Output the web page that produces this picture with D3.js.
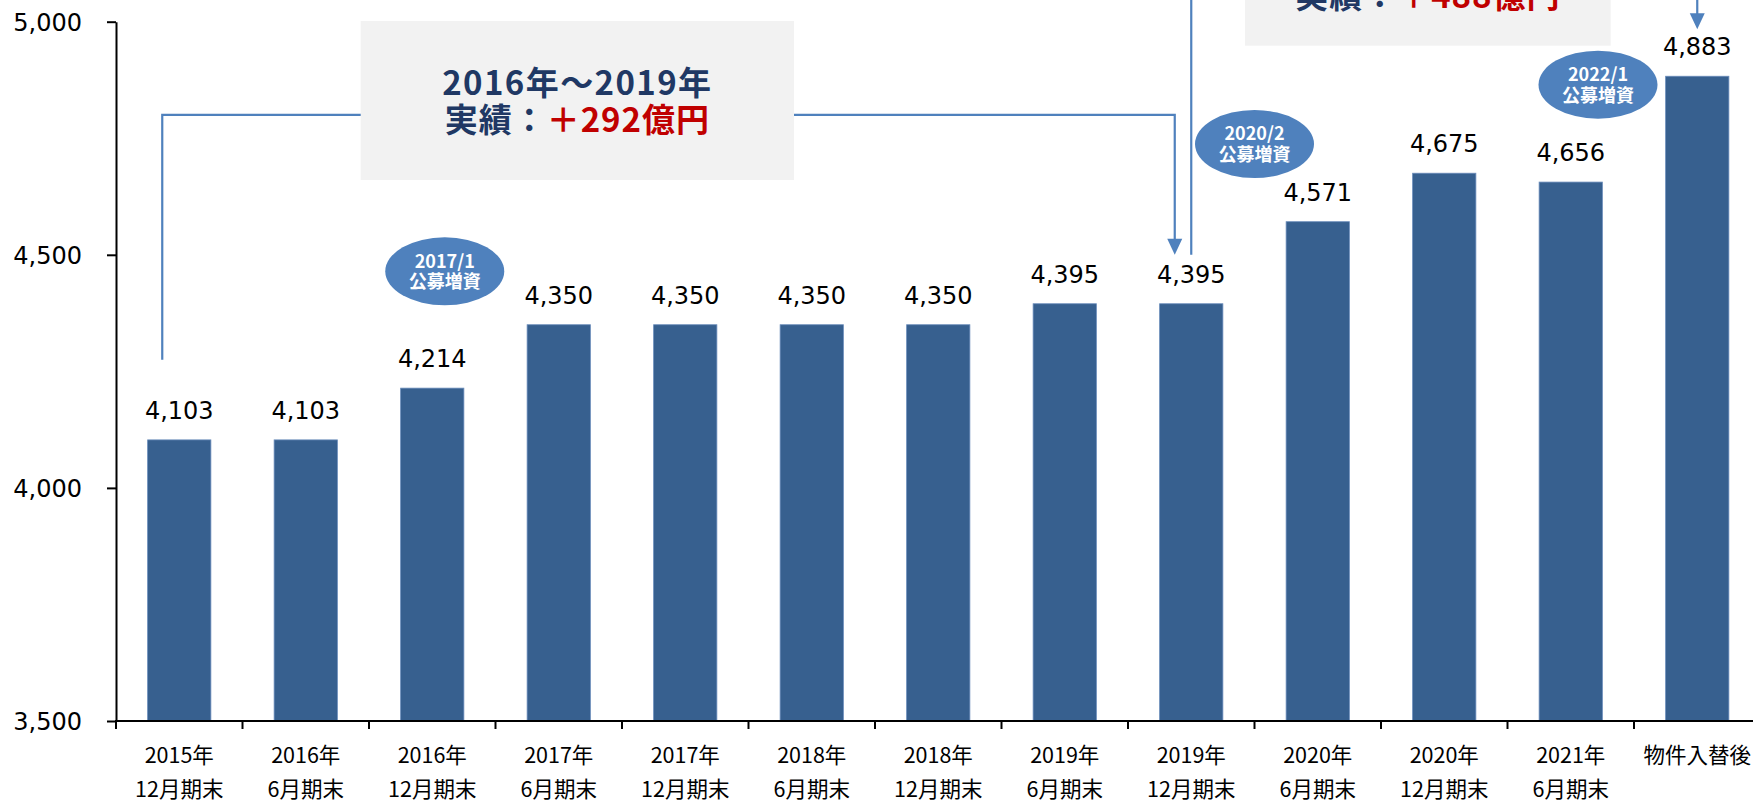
<!DOCTYPE html>
<html>
<head>
<meta charset="utf-8">
<script src="https://cdn.jsdelivr.net/npm/d3@7"></script>
<style>
  html, body { margin: 0; padding: 0; background: #ffffff; }
  svg { display: block; }
</style>
</head>
<body>
<div id="chart"></div>
<script>
// ---- data ----
const catYear   = ["2015年","2016年","2016年","2017年","2017年","2018年","2018年","2019年","2019年","2020年","2020年","2021年","物件入替後"];
const catPeriod = ["12月期末","6月期末","12月期末","6月期末","12月期末","6月期末","12月期末","6月期末","12月期末","6月期末","12月期末","6月期末",""];
const values    = [4103, 4103, 4214, 4350, 4350, 4350, 4350, 4395, 4395, 4571, 4675, 4656, 4883];
const yTicks    = [3500, 4000, 4500, 5000];
const bubbles   = [
  { at: 2,  l1: "2017/1", l2: "公募増資" },
  { at: 8,  l1: "2020/2", l2: "公募増資" },
  { at: 11, l1: "2022/1", l2: "公募増資" }
];
const boxes = [
  { l1: "2016年～2019年", pre: "実績：", amt: "＋292億円" },
  { l1: "2020年～2022年", pre: "実績：", amt: "＋488億円" }
];

// ---- layout ----
const W = 1753, H = 800;
const axisX = 116, step = 126.5;
const svg = d3.select("#chart").append("svg").attr("width", W).attr("height", H);

const x = d3.scaleBand()
  .domain(d3.range(values.length))
  .range([axisX, axisX + step * values.length])
  .paddingInner(0.5).paddingOuter(0.25);
const y = d3.scaleLinear().domain([3500, 5000]).range([721, 21.7]);
const cx = i => x(i) + x.bandwidth() / 2;

// bars
svg.append("g").selectAll("rect").data(values).join("rect")
  .attr("x", (d, i) => x(i))
  .attr("y", d => y(d))
  .attr("width", x.bandwidth())
  .attr("height", d => y(3500) - y(d))
  .attr("fill", "#37608f")
  .attr("stroke", "#6a8cba")
  .attr("stroke-width", 0.8);

// value labels
svg.append("g").selectAll("text").data(values).join("text")
  .attr("x", (d, i) => cx(i))
  .attr("y", d => y(d) - 21)
  .attr("text-anchor", "middle")
  .attr("font-family", "'DejaVu Sans', Verdana, sans-serif")
  .attr("font-size", 24)
  .attr("fill", "#000")
  .text(d => d3.format(",")(d));

// y axis
const yAxis = svg.append("g").attr("transform", `translate(${axisX},0)`)
  .call(d3.axisLeft(y).tickValues(yTicks).tickFormat(d3.format(",")).tickSizeInner(9).tickSizeOuter(0).tickPadding(25));
yAxis.select(".domain").attr("stroke", "#000").attr("stroke-width", 2);
yAxis.selectAll(".tick line").attr("stroke", "#000").attr("stroke-width", 2);
yAxis.selectAll(".tick text")
  .attr("font-family", "'DejaVu Sans', Verdana, sans-serif")
  .attr("font-size", 24).attr("fill", "#000").attr("dy", "0.37em");

// x axis
const boundaries = d3.range(values.length + 1).map(i => axisX + i * x.step());
svg.append("line")
  .attr("x1", axisX - 1).attr("x2", W + 20)
  .attr("y1", y(3500)).attr("y2", y(3500))
  .attr("stroke", "#000").attr("stroke-width", 2.2);
svg.append("g").selectAll("line").data(boundaries).join("line")
  .attr("x1", d => d).attr("x2", d => d)
  .attr("y1", y(3500)).attr("y2", y(3500) + 8)
  .attr("stroke", "#000").attr("stroke-width", 2);

const xl = svg.append("g")
  .attr("font-family", "'Noto Sans CJK JP', 'Noto Sans', sans-serif")
  .attr("font-size", 21.5).attr("fill", "#000").attr("text-anchor", "middle");
xl.selectAll("text.l1").data(catYear).join("text").attr("class", "l1")
  .attr("x", (d, i) => cx(i)).attr("y", y(3500) + 42).text(d => d);
xl.selectAll("text.l2").data(catPeriod).join("text").attr("class", "l2")
  .attr("x", (d, i) => cx(i)).attr("y", y(3500) + 76).text(d => d);

// ---- annotations ----
const blue = "#4f81bd";
const ann = svg.append("g");
function arrowHead(xc, tipY) {
  ann.append("path")
    .attr("d", `M${xc - 7.5},${tipY - 16} L${xc + 7.5},${tipY - 16} L${xc},${tipY} Z`)
    .attr("fill", blue);
}
// bracket 1
const b1L = cx(0) - 17, b1R = cx(8) - 16.5;
ann.append("path")
  .attr("d", `M${b1L},${y(4275)} L${b1L},${y(4800)} L${b1R},${y(4800)} L${b1R},${y(4500) - 14}`)
  .attr("fill", "none").attr("stroke", blue).attr("stroke-width", 2.2);
arrowHead(b1R, y(4500));
// bracket 2
const b2L = cx(8), b2R = cx(12);
ann.append("path")
  .attr("d", `M${b2L},${y(4500)} L${b2L},-60 L${b2R},-60 L${b2R},${y(4984) - 14}`)
  .attr("fill", "none").attr("stroke", blue).attr("stroke-width", 2.2);
arrowHead(b2R, y(4984));

// boxes
const boxGeo = [
  { x0: 360.7, x1: 794, top: 21, bottom: 180, c1: 82.7, c2: 120 },
  { x0: 1245, x1: 1610.7, top: -120, bottom: 45.7, c1: -41, c2: -4 }
];
boxes.forEach((b, k) => {
  const g = boxGeo[k];
  ann.append("rect")
    .attr("x", g.x0).attr("y", g.top)
    .attr("width", g.x1 - g.x0).attr("height", g.bottom - g.top)
    .attr("fill", "#f2f2f2");
  const mid = (g.x0 + g.x1) / 2;
  ann.append("text")
    .attr("x", mid).attr("y", g.c1).attr("dy", "0.36em")
    .attr("text-anchor", "middle")
    .attr("font-family", "'Noto Sans CJK JP', sans-serif")
    .attr("font-weight", "bold").attr("font-size", 33)
    .attr("letter-spacing", 1.4).attr("fill", "#203864")
    .text(b.l1);
  const t2 = ann.append("text")
    .attr("x", mid).attr("y", g.c2).attr("dy", "0.36em")
    .attr("text-anchor", "middle")
    .attr("font-family", "'Noto Sans CJK JP', sans-serif")
    .attr("font-weight", "bold").attr("font-size", 33)
    .attr("letter-spacing", 1);
  t2.append("tspan").attr("fill", "#203864").text(b.pre);
  t2.append("tspan").attr("fill", "#c00000").text(b.amt);
});

// bubbles
const bubbleGeo = [
  { dx: 12.5, v: 4464.6 },
  { dx: 63.25, v: 4737.7 },
  { dx: 27.25, v: 4865 }
];
bubbles.forEach((b, k) => {
  const ex = cx(b.at) + bubbleGeo[k].dx, ey = y(bubbleGeo[k].v);
  ann.append("ellipse")
    .attr("cx", ex).attr("cy", ey).attr("rx", 59.5).attr("ry", 34)
    .attr("fill", blue);
  const t = ann.append("text")
    .attr("text-anchor", "middle")
    .attr("font-family", "'Noto Sans CJK JP', sans-serif")
    .attr("font-weight", "bold").attr("font-size", 18).attr("fill", "#ffffff");
  t.append("tspan").attr("x", ex).attr("y", ey - 10).attr("dy", "0.36em").text(b.l1);
  t.append("tspan").attr("x", ex).attr("y", ey + 10.5).attr("dy", "0.36em").text(b.l2);
});
</script>
</body>
</html>
